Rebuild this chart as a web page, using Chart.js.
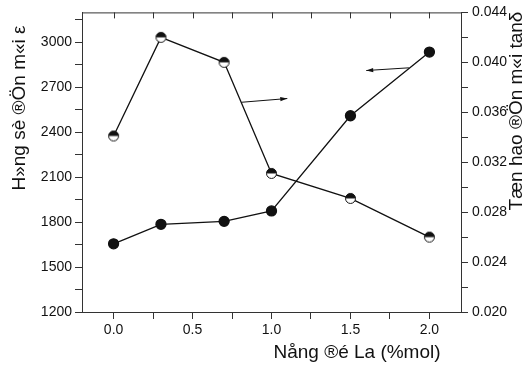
<!DOCTYPE html>
<html>
<head>
<meta charset="utf-8">
<script src="https://cdn.jsdelivr.net/npm/chart.js@4"></script>
<style>
  html, body { margin: 0; padding: 0; background: #fff; }
  #wrap { width: 526px; height: 367px; }
</style>
</head>
<body>
<div id="wrap"><canvas id="myChart" width="526" height="367"></canvas></div>
<script>
// concentration of La (%mol)
var conc = [0, 0.3, 0.7, 1.0, 1.5, 2.0];
// dielectric constant (left axis)
var epsilon = [1655, 1785, 1805, 1875, 2510, 2935];
// dielectric loss tan delta (right axis)
var tanDelta = [0.0341, 0.0420, 0.0400, 0.0311, 0.0291, 0.0260];

// tick positions (labelled ones are every second)
var xTicks = [0, 0.25, 0.5, 0.75, 1.0, 1.25, 1.5, 1.75, 2.0];
var yTicks = [1200, 1350, 1500, 1650, 1800, 1950, 2100, 2250, 2400, 2550, 2700, 2850, 3000, 3150];
var y2Ticks = [0.020, 0.022, 0.024, 0.026, 0.028, 0.030, 0.032, 0.034, 0.036, 0.038, 0.040, 0.042, 0.044];

var xTitle = "Nång ®é La (%mol)";
var yTitle = "H»ng sè ®Ön m«i ε";
var y2Title = "Tæn hao ®Ön m«i tanδ";

// arrows in data units: [x0, y0, x1, y1, axis]
var arrowTan = [0.81, 0.0368, 1.10, 0.0371, "y2"];
var arrowEps = [1.87, 2830, 1.60, 2812, "y"];

var ink = "#111";
var axisCol = "#333";

// half filled marker
function halfDot() {
  var c = document.createElement("canvas");
  c.width = 13; c.height = 13;
  var g = c.getContext("2d");
  g.beginPath(); g.arc(6.5, 6.5, 5, 0, Math.PI * 2); g.fillStyle = "#fff"; g.fill();
  g.beginPath(); g.arc(6.5, 6.5, 5, Math.PI, 0); g.closePath(); g.fillStyle = ink; g.fill();
  g.beginPath(); g.arc(6.5, 6.5, 5, 0, Math.PI * 2); g.strokeStyle = ink; g.lineWidth = 1; g.stroke();
  return c;
}

function useTicks(list) {
  return function (scale) {
    scale.ticks = list.map(function (v) { return { value: v }; });
  };
}

var extras = {
  id: "extras",
  afterDraw: function (chart) {
    var ctx = chart.ctx, a = chart.chartArea, sx = chart.scales.x;
    ctx.save();
    ctx.strokeStyle = axisCol;
    ctx.lineWidth = 1;
    // top frame and inward ticks
    ctx.beginPath();
    ctx.moveTo(a.left, a.top + 0.5); ctx.lineTo(a.right, a.top + 0.5);
    sx.ticks.forEach(function (t) {
      var px = Math.round(sx.getPixelForValue(t.value)) + 0.5;
      ctx.moveTo(px, a.top); ctx.lineTo(px, a.top + 6);
    });
    ctx.stroke();

    // arrows
    [arrowTan, arrowEps].forEach(function (ar) {
      var ys = chart.scales[ar[4]];
      var x0 = sx.getPixelForValue(ar[0]), y0 = ys.getPixelForValue(ar[1]);
      var x1 = sx.getPixelForValue(ar[2]), y1 = ys.getPixelForValue(ar[3]);
      ctx.strokeStyle = ink; ctx.fillStyle = ink;
      ctx.beginPath(); ctx.moveTo(x0, y0); ctx.lineTo(x1, y1); ctx.stroke();
      var ang = Math.atan2(y1 - y0, x1 - x0);
      ctx.beginPath();
      ctx.moveTo(x1, y1);
      ctx.lineTo(x1 - 7 * Math.cos(ang) + 2.2 * Math.sin(ang), y1 - 7 * Math.sin(ang) - 2.2 * Math.cos(ang));
      ctx.lineTo(x1 - 7 * Math.cos(ang) - 2.2 * Math.sin(ang), y1 - 7 * Math.sin(ang) + 2.2 * Math.cos(ang));
      ctx.closePath(); ctx.fill();
    });

    // axis titles
    ctx.fillStyle = ink;
    ctx.font = "19px 'Liberation Sans', Arial, sans-serif";
    ctx.textAlign = "center";
    ctx.textBaseline = "middle";
    ctx.fillText(xTitle, 357, 353);
    ctx.save();
    ctx.translate(20, 108); ctx.rotate(-Math.PI / 2);
    ctx.fillText(yTitle, 0, 0);
    ctx.restore();
    ctx.save();
    ctx.translate(517, 111); ctx.rotate(-Math.PI / 2);
    ctx.fillText(y2Title, 0, 0);
    ctx.restore();
    ctx.restore();
  }
};

var tickFont = { family: "'Liberation Sans', Arial, sans-serif", size: 14 };
var gridOpts = { drawOnChartArea: false, drawTicks: true, tickLength: 7, color: axisCol, tickColor: axisCol };
var borderOpts = { display: true, color: axisCol, width: 1 };

var myChart = document.getElementById("myChart").getContext("2d");
var chart = new Chart(myChart, {
  type: "scatter",
  data: {
    datasets: [
      {
        label: "epsilon",
        data: conc.map(function (c, i) { return { x: c, y: epsilon[i] }; }),
        yAxisID: "y",
        showLine: true,
        borderColor: ink,
        borderWidth: 1.3,
        backgroundColor: ink,
        pointRadius: 5,
        pointBorderColor: ink,
        pointBackgroundColor: ink,
        tension: 0
      },
      {
        label: "tan",
        data: conc.map(function (c, i) { return { x: c, y: tanDelta[i] }; }),
        yAxisID: "y2",
        showLine: true,
        borderColor: ink,
        borderWidth: 1.3,
        pointStyle: halfDot(),
        tension: 0
      }
    ]
  },
  options: {
    responsive: false,
    animation: false,
    layout: { padding: { top: 10, left: 0, right: 0, bottom: 0 } },
    plugins: { legend: { display: false }, tooltip: { enabled: false } },
    scales: {
      x: {
        type: "linear",
        position: "bottom",
        min: -0.2, max: 2.2,
        grid: gridOpts,
        border: borderOpts,
        afterBuildTicks: useTicks(xTicks),
        afterFit: function (s) { s.height = 55; },
        ticks: {
          color: ink,
          font: tickFont,
          padding: 3,
          maxRotation: 0,
          autoSkip: false,
          callback: function (v) {
            return Math.abs(v * 2 - Math.round(v * 2)) < 1e-6 ? v.toFixed(1) : "";
          }
        }
      },
      y: {
        position: "left",
        min: 1200, max: 3200,
        grid: gridOpts,
        border: borderOpts,
        afterBuildTicks: useTicks(yTicks),
        afterFit: function (s) { s.width = 82; },
        ticks: {
          color: ink,
          font: tickFont,
          padding: 3,
          autoSkip: false,
          callback: function (v) { return v % 300 === 0 ? String(v) : ""; }
        }
      },
      y2: {
        position: "right",
        min: 0.020, max: 0.044,
        grid: gridOpts,
        border: borderOpts,
        afterBuildTicks: useTicks(y2Ticks),
        afterFit: function (s) { s.width = 65; },
        ticks: {
          color: ink,
          font: tickFont,
          padding: 4,
          autoSkip: false,
          callback: function (v) {
            return Math.round(v * 1000) % 4 === 0 ? v.toFixed(3) : "";
          }
        }
      }
    }
  },
  plugins: [extras]
});
</script>
</body>
</html>
